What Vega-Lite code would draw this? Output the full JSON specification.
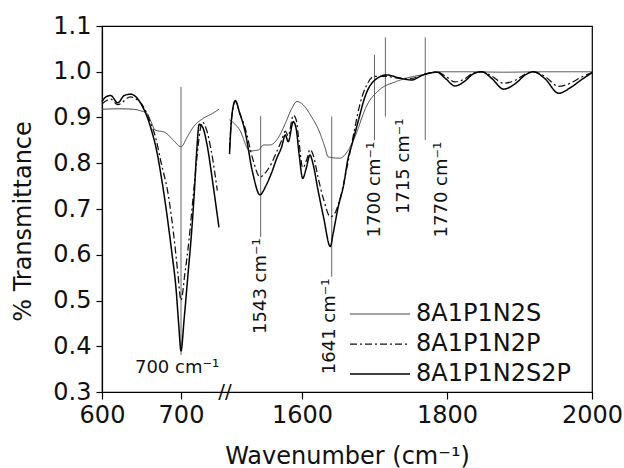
{
  "$schema": "https://vega.github.io/schema/vega-lite/v6.json",
  "width": 490,
  "height": 366,
  "autosize": {"type": "none"},
  "padding": {"left": 102, "top": 26, "right": 32, "bottom": 76},
  "background": "white",
  "config": {
    "font": "DejaVu Sans",
    "view": {"stroke": "#000", "strokeWidth": 1.2},
    "axis": {"grid": false, "domainColor": "#000", "tickColor": "#000", "labelColor": "#111", "titleColor": "#111", "labelFont": "DejaVu Sans", "titleFont": "DejaVu Sans", "titleFontWeight": "normal", "domainWidth": 1.2, "tickWidth": 1.2},
    "legend": {"orient": "none", "legendX": 266, "legendY": 276, "symbolType": "M-6,0H6", "symbolSize": 100, "labelFontSize": 24, "labelFont": "DejaVu Sans", "labelColor": "#111", "labelOffset": 24, "rowPadding": 6, "title": null}
  },
  "datasets": {
    "spectra": [
      {"s":"8A1P1N2S","seg":"L","wn":600,"t":0.918},{"s":"8A1P1N2S","seg":"L","wn":620,"t":0.919},{"s":"8A1P1N2S","seg":"L","wn":640,"t":0.918},{"s":"8A1P1N2S","seg":"L","wn":648,"t":0.915},{"s":"8A1P1N2S","seg":"L","wn":657,"t":0.909},{"s":"8A1P1N2S","seg":"L","wn":663,"t":0.887},{"s":"8A1P1N2S","seg":"L","wn":667,"t":0.873},{"s":"8A1P1N2S","seg":"L","wn":680,"t":0.867},{"s":"8A1P1N2S","seg":"L","wn":690,"t":0.851},{"s":"8A1P1N2S","seg":"L","wn":700,"t":0.836},{"s":"8A1P1N2S","seg":"L","wn":708,"t":0.858},{"s":"8A1P1N2S","seg":"L","wn":716,"t":0.88},{"s":"8A1P1N2S","seg":"L","wn":728,"t":0.898},{"s":"8A1P1N2S","seg":"L","wn":740,"t":0.909},{"s":"8A1P1N2S","seg":"L","wn":748,"t":0.918},
      {"s":"8A1P1N2S","seg":"R","wn":1500,"t":0.895},{"s":"8A1P1N2S","seg":"R","wn":1514,"t":0.873},{"s":"8A1P1N2S","seg":"R","wn":1528,"t":0.827},{"s":"8A1P1N2S","seg":"R","wn":1540,"t":0.829},{"s":"8A1P1N2S","seg":"R","wn":1547,"t":0.84},{"s":"8A1P1N2S","seg":"R","wn":1556,"t":0.84},{"s":"8A1P1N2S","seg":"R","wn":1567,"t":0.855},{"s":"8A1P1N2S","seg":"R","wn":1577,"t":0.887},{"s":"8A1P1N2S","seg":"R","wn":1586,"t":0.92},{"s":"8A1P1N2S","seg":"R","wn":1593,"t":0.935},{"s":"8A1P1N2S","seg":"R","wn":1602,"t":0.927},{"s":"8A1P1N2S","seg":"R","wn":1613,"t":0.902},{"s":"8A1P1N2S","seg":"R","wn":1625,"t":0.865},{"s":"8A1P1N2S","seg":"R","wn":1632,"t":0.833},{"s":"8A1P1N2S","seg":"R","wn":1636,"t":0.814},{"s":"8A1P1N2S","seg":"R","wn":1652,"t":0.811},{"s":"8A1P1N2S","seg":"R","wn":1664,"t":0.829},{"s":"8A1P1N2S","seg":"R","wn":1673,"t":0.858},{"s":"8A1P1N2S","seg":"R","wn":1689,"t":0.925},{"s":"8A1P1N2S","seg":"R","wn":1708,"t":0.962},{"s":"8A1P1N2S","seg":"R","wn":1729,"t":0.978},{"s":"8A1P1N2S","seg":"R","wn":1749,"t":0.988},{"s":"8A1P1N2S","seg":"R","wn":1772,"t":0.995},{"s":"8A1P1N2S","seg":"R","wn":1786,"t":1.0},{"s":"8A1P1N2S","seg":"R","wn":1830,"t":1.0},{"s":"8A1P1N2S","seg":"R","wn":1880,"t":0.999},{"s":"8A1P1N2S","seg":"R","wn":1930,"t":1.0},{"s":"8A1P1N2S","seg":"R","wn":2000,"t":1.0},
      {"s":"8A1P1N2P","seg":"L","wn":600,"t":0.93},{"s":"8A1P1N2P","seg":"L","wn":611,"t":0.94},{"s":"8A1P1N2P","seg":"L","wn":620,"t":0.928},{"s":"8A1P1N2P","seg":"L","wn":636,"t":0.945},{"s":"8A1P1N2P","seg":"L","wn":645,"t":0.938},{"s":"8A1P1N2P","seg":"L","wn":652,"t":0.925},{"s":"8A1P1N2P","seg":"L","wn":660,"t":0.895},{"s":"8A1P1N2P","seg":"L","wn":668,"t":0.855},{"s":"8A1P1N2P","seg":"L","wn":675,"t":0.8},{"s":"8A1P1N2P","seg":"L","wn":684,"t":0.73},{"s":"8A1P1N2P","seg":"L","wn":691,"t":0.64},{"s":"8A1P1N2P","seg":"L","wn":696,"t":0.56},{"s":"8A1P1N2P","seg":"L","wn":700,"t":0.5},{"s":"8A1P1N2P","seg":"L","wn":705,"t":0.56},{"s":"8A1P1N2P","seg":"L","wn":710,"t":0.63},{"s":"8A1P1N2P","seg":"L","wn":715,"t":0.72},{"s":"8A1P1N2P","seg":"L","wn":720,"t":0.81},{"s":"8A1P1N2P","seg":"L","wn":724,"t":0.87},{"s":"8A1P1N2P","seg":"L","wn":727,"t":0.89},{"s":"8A1P1N2P","seg":"L","wn":732,"t":0.875},{"s":"8A1P1N2P","seg":"L","wn":738,"t":0.83},{"s":"8A1P1N2P","seg":"L","wn":746,"t":0.74},
      {"s":"8A1P1N2P","seg":"R","wn":1500,"t":0.83},{"s":"8A1P1N2P","seg":"R","wn":1503,"t":0.9},{"s":"8A1P1N2P","seg":"R","wn":1508,"t":0.935},{"s":"8A1P1N2P","seg":"R","wn":1514,"t":0.91},{"s":"8A1P1N2P","seg":"R","wn":1521,"t":0.88},{"s":"8A1P1N2P","seg":"R","wn":1532,"t":0.81},{"s":"8A1P1N2P","seg":"R","wn":1542,"t":0.77},{"s":"8A1P1N2P","seg":"R","wn":1550,"t":0.78},{"s":"8A1P1N2P","seg":"R","wn":1558,"t":0.8},{"s":"8A1P1N2P","seg":"R","wn":1565,"t":0.825},{"s":"8A1P1N2P","seg":"R","wn":1572,"t":0.85},{"s":"8A1P1N2P","seg":"R","wn":1577,"t":0.87},{"s":"8A1P1N2P","seg":"R","wn":1581,"t":0.86},{"s":"8A1P1N2P","seg":"R","wn":1588,"t":0.905},{"s":"8A1P1N2P","seg":"R","wn":1592,"t":0.895},{"s":"8A1P1N2P","seg":"R","wn":1595,"t":0.86},{"s":"8A1P1N2P","seg":"R","wn":1601,"t":0.79},{"s":"8A1P1N2P","seg":"R","wn":1607,"t":0.81},{"s":"8A1P1N2P","seg":"R","wn":1611,"t":0.83},{"s":"8A1P1N2P","seg":"R","wn":1616,"t":0.815},{"s":"8A1P1N2P","seg":"R","wn":1622,"t":0.77},{"s":"8A1P1N2P","seg":"R","wn":1630,"t":0.72},{"s":"8A1P1N2P","seg":"R","wn":1639,"t":0.683},{"s":"8A1P1N2P","seg":"R","wn":1645,"t":0.69},{"s":"8A1P1N2P","seg":"R","wn":1652,"t":0.72},{"s":"8A1P1N2P","seg":"R","wn":1664,"t":0.807},{"s":"8A1P1N2P","seg":"R","wn":1672,"t":0.87},{"s":"8A1P1N2P","seg":"R","wn":1680,"t":0.93},{"s":"8A1P1N2P","seg":"R","wn":1689,"t":0.97},{"s":"8A1P1N2P","seg":"R","wn":1700,"t":0.99},{"s":"8A1P1N2P","seg":"R","wn":1714,"t":0.99},{"s":"8A1P1N2P","seg":"R","wn":1735,"t":0.986},{"s":"8A1P1N2P","seg":"R","wn":1749,"t":0.985},{"s":"8A1P1N2P","seg":"R","wn":1772,"t":0.996},{"s":"8A1P1N2P","seg":"R","wn":1786,"t":1.0},{"s":"8A1P1N2P","seg":"R","wn":1798,"t":0.99},{"s":"8A1P1N2P","seg":"R","wn":1811,"t":0.978},{"s":"8A1P1N2P","seg":"R","wn":1825,"t":0.985},{"s":"8A1P1N2P","seg":"R","wn":1836,"t":0.997},{"s":"8A1P1N2P","seg":"R","wn":1848,"t":1.0},{"s":"8A1P1N2P","seg":"R","wn":1862,"t":0.99},{"s":"8A1P1N2P","seg":"R","wn":1878,"t":0.975},{"s":"8A1P1N2P","seg":"R","wn":1895,"t":0.982},{"s":"8A1P1N2P","seg":"R","wn":1908,"t":0.995},{"s":"8A1P1N2P","seg":"R","wn":1919,"t":1.0},{"s":"8A1P1N2P","seg":"R","wn":1935,"t":0.99},{"s":"8A1P1N2P","seg":"R","wn":1954,"t":0.968},{"s":"8A1P1N2P","seg":"R","wn":1970,"t":0.975},{"s":"8A1P1N2P","seg":"R","wn":1985,"t":0.988},{"s":"8A1P1N2P","seg":"R","wn":2000,"t":0.998},
      {"s":"8A1P1N2S2P","seg":"L","wn":600,"t":0.935},{"s":"8A1P1N2S2P","seg":"L","wn":605,"t":0.945},{"s":"8A1P1N2S2P","seg":"L","wn":611,"t":0.948},{"s":"8A1P1N2S2P","seg":"L","wn":620,"t":0.932},{"s":"8A1P1N2S2P","seg":"L","wn":628,"t":0.948},{"s":"8A1P1N2S2P","seg":"L","wn":636,"t":0.951},{"s":"8A1P1N2S2P","seg":"L","wn":643,"t":0.945},{"s":"8A1P1N2S2P","seg":"L","wn":650,"t":0.928},{"s":"8A1P1N2S2P","seg":"L","wn":657,"t":0.902},{"s":"8A1P1N2S2P","seg":"L","wn":663,"t":0.87},{"s":"8A1P1N2S2P","seg":"L","wn":669,"t":0.829},{"s":"8A1P1N2S2P","seg":"L","wn":676,"t":0.76},{"s":"8A1P1N2S2P","seg":"L","wn":682,"t":0.69},{"s":"8A1P1N2S2P","seg":"L","wn":688,"t":0.61},{"s":"8A1P1N2S2P","seg":"L","wn":694,"t":0.52},{"s":"8A1P1N2S2P","seg":"L","wn":697,"t":0.45},{"s":"8A1P1N2S2P","seg":"L","wn":700,"t":0.39},{"s":"8A1P1N2S2P","seg":"L","wn":704,"t":0.46},{"s":"8A1P1N2S2P","seg":"L","wn":709,"t":0.56},{"s":"8A1P1N2S2P","seg":"L","wn":713,"t":0.64},{"s":"8A1P1N2S2P","seg":"L","wn":717,"t":0.74},{"s":"8A1P1N2S2P","seg":"L","wn":720,"t":0.83},{"s":"8A1P1N2S2P","seg":"L","wn":723,"t":0.885},{"s":"8A1P1N2S2P","seg":"L","wn":727,"t":0.88},{"s":"8A1P1N2S2P","seg":"L","wn":733,"t":0.84},{"s":"8A1P1N2S2P","seg":"L","wn":740,"t":0.76},{"s":"8A1P1N2S2P","seg":"L","wn":748,"t":0.66},
      {"s":"8A1P1N2S2P","seg":"R","wn":1500,"t":0.82},{"s":"8A1P1N2S2P","seg":"R","wn":1503,"t":0.9},{"s":"8A1P1N2S2P","seg":"R","wn":1508,"t":0.937},{"s":"8A1P1N2S2P","seg":"R","wn":1514,"t":0.91},{"s":"8A1P1N2S2P","seg":"R","wn":1521,"t":0.873},{"s":"8A1P1N2S2P","seg":"R","wn":1532,"t":0.779},{"s":"8A1P1N2S2P","seg":"R","wn":1542,"t":0.731},{"s":"8A1P1N2S2P","seg":"R","wn":1550,"t":0.75},{"s":"8A1P1N2S2P","seg":"R","wn":1558,"t":0.779},{"s":"8A1P1N2S2P","seg":"R","wn":1565,"t":0.81},{"s":"8A1P1N2S2P","seg":"R","wn":1572,"t":0.836},{"s":"8A1P1N2S2P","seg":"R","wn":1577,"t":0.862},{"s":"8A1P1N2S2P","seg":"R","wn":1581,"t":0.847},{"s":"8A1P1N2S2P","seg":"R","wn":1588,"t":0.891},{"s":"8A1P1N2S2P","seg":"R","wn":1592,"t":0.875},{"s":"8A1P1N2S2P","seg":"R","wn":1596,"t":0.82},{"s":"8A1P1N2S2P","seg":"R","wn":1601,"t":0.767},{"s":"8A1P1N2S2P","seg":"R","wn":1606,"t":0.79},{"s":"8A1P1N2S2P","seg":"R","wn":1611,"t":0.818},{"s":"8A1P1N2S2P","seg":"R","wn":1615,"t":0.8},{"s":"8A1P1N2S2P","seg":"R","wn":1622,"t":0.742},{"s":"8A1P1N2S2P","seg":"R","wn":1630,"t":0.68},{"s":"8A1P1N2S2P","seg":"R","wn":1639,"t":0.618},{"s":"8A1P1N2S2P","seg":"R","wn":1643,"t":0.647},{"s":"8A1P1N2S2P","seg":"R","wn":1650,"t":0.705},{"s":"8A1P1N2S2P","seg":"R","wn":1657,"t":0.749},{"s":"8A1P1N2S2P","seg":"R","wn":1664,"t":0.814},{"s":"8A1P1N2S2P","seg":"R","wn":1668,"t":0.836},{"s":"8A1P1N2S2P","seg":"R","wn":1678,"t":0.895},{"s":"8A1P1N2S2P","seg":"R","wn":1687,"t":0.946},{"s":"8A1P1N2S2P","seg":"R","wn":1698,"t":0.978},{"s":"8A1P1N2S2P","seg":"R","wn":1717,"t":0.993},{"s":"8A1P1N2S2P","seg":"R","wn":1735,"t":0.986},{"s":"8A1P1N2S2P","seg":"R","wn":1751,"t":0.982},{"s":"8A1P1N2S2P","seg":"R","wn":1767,"t":0.993},{"s":"8A1P1N2S2P","seg":"R","wn":1786,"t":0.999},{"s":"8A1P1N2S2P","seg":"R","wn":1798,"t":0.985},{"s":"8A1P1N2S2P","seg":"R","wn":1811,"t":0.969},{"s":"8A1P1N2S2P","seg":"R","wn":1825,"t":0.98},{"s":"8A1P1N2S2P","seg":"R","wn":1836,"t":0.995},{"s":"8A1P1N2S2P","seg":"R","wn":1848,"t":1.0},{"s":"8A1P1N2S2P","seg":"R","wn":1862,"t":0.985},{"s":"8A1P1N2S2P","seg":"R","wn":1878,"t":0.962},{"s":"8A1P1N2S2P","seg":"R","wn":1895,"t":0.975},{"s":"8A1P1N2S2P","seg":"R","wn":1908,"t":0.993},{"s":"8A1P1N2S2P","seg":"R","wn":1919,"t":1.0},{"s":"8A1P1N2S2P","seg":"R","wn":1935,"t":0.985},{"s":"8A1P1N2S2P","seg":"R","wn":1954,"t":0.953},{"s":"8A1P1N2S2P","seg":"R","wn":1970,"t":0.965},{"s":"8A1P1N2S2P","seg":"R","wn":1985,"t":0.982},{"s":"8A1P1N2S2P","seg":"R","wn":2000,"t":0.998}
    ],
    "rules": [
      {"wn": 700, "t": 0.967, "t2": 0.381},
      {"wn": 1543, "t": 0.903, "t2": 0.639},
      {"wn": 1641, "t": 0.902, "t2": 0.552},
      {"wn": 1700, "t": 1.037, "t2": 0.851},
      {"wn": 1715, "t": 1.075, "t2": 0.902},
      {"wn": 1770, "t": 1.075, "t2": 0.851}
    ],
    "vlabels": [
      {"wn": 1543, "t": 0.636, "label": "1543 cm⁻¹"},
      {"wn": 1638, "t": 0.548, "label": "1641 cm⁻¹"},
      {"wn": 1701, "t": 0.847, "label": "1700 cm⁻¹"},
      {"wn": 1740, "t": 0.898, "label": "1715 cm⁻¹"},
      {"wn": 1793, "t": 0.847, "label": "1770 cm⁻¹"}
    ],
    "hlabels": [
      {"wn": 695, "t": 0.342, "label": "700 cm⁻¹"}
    ],
    "brk": [
      {"wn": 1125, "t": 0.3, "label": "//"}
    ]
  },
  "encoding": {
    "x": {
      "field": "wn", "type": "quantitative",
      "scale": {"domain": [600, 750, 1500, 2000], "range": [0, 118.5, 127.5, 490], "nice": false, "zero": false},
      "axis": {"values": [600, 700, 1600, 1800, 2000], "format": "d", "labelFontSize": 24, "tickSize": 7, "labelPadding": 4, "title": "Wavenumber (cm⁻¹)", "titleFontSize": 24, "titleY": 71, "titleBaseline": "alphabetic", "labelFlush": false, "labelOverlap": false}
    },
    "y": {
      "field": "t", "type": "quantitative",
      "scale": {"domain": [0.3, 1.1], "nice": false, "zero": false},
      "axis": {"values": [0.3, 0.4, 0.5, 0.6, 0.7, 0.8, 0.9, 1.0, 1.1], "format": ".1f", "labelFontSize": 24, "tickSize": 6, "labelPadding": 5, "title": "% Transmittance", "titleFontSize": 24, "titleX": -79, "titleY": 195, "titleAngle": 270, "titleBaseline": "middle", "titleAlign": "center", "labelFlush": false, "labelOverlap": false}
    }
  },
  "layer": [
    {
      "data": {"name": "rules"},
      "mark": {"type": "rule", "color": "#666", "strokeWidth": 1},
      "encoding": {"y2": {"field": "t2"}}
    },
    {
      "data": {"name": "spectra"},
      "mark": {"type": "line", "interpolate": "monotone"},
      "encoding": {
        "detail": {"field": "seg"},
        "stroke": {"field": "s", "type": "nominal", "scale": {"domain": ["8A1P1N2S", "8A1P1N2P", "8A1P1N2S2P"], "range": ["#444", "#111", "#000"]}},
        "strokeDash": {"field": "s", "type": "nominal", "scale": {"domain": ["8A1P1N2S", "8A1P1N2P", "8A1P1N2S2P"], "range": [[1, 0], [7, 3, 2, 3], [1, 0]]}},
        "strokeWidth": {"field": "s", "type": "nominal", "scale": {"domain": ["8A1P1N2S", "8A1P1N2P", "8A1P1N2S2P"], "range": [1, 1.5, 3]}}
      }
    },
    {
      "data": {"name": "vlabels"},
      "mark": {"type": "text", "angle": 270, "align": "right", "baseline": "middle", "fontSize": 18, "color": "#111"},
      "encoding": {"text": {"field": "label"}}
    },
    {
      "data": {"name": "hlabels"},
      "mark": {"type": "text", "align": "center", "baseline": "alphabetic", "fontSize": 18, "color": "#111"},
      "encoding": {"text": {"field": "label"}}
    },
    {
      "data": {"name": "brk"},
      "mark": {"type": "text", "align": "center", "baseline": "middle", "fontSize": 20, "color": "#111"},
      "encoding": {"text": {"field": "label"}}
    }
  ]
}
